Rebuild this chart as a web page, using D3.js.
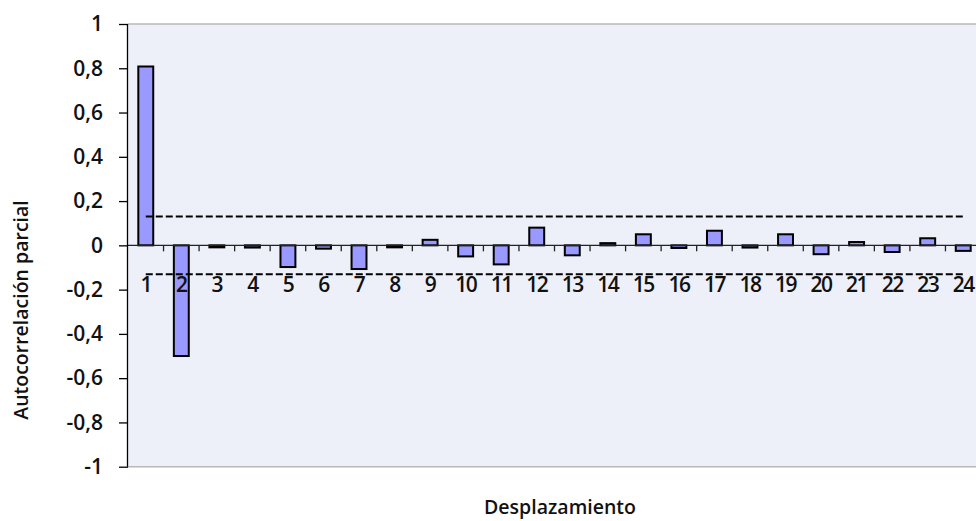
<!DOCTYPE html>
<html><head><meta charset="utf-8">
<script src="https://cdn.jsdelivr.net/npm/d3@7"></script>
<style>html,body{margin:0;padding:0;background:#fff;overflow:hidden}</style>
</head><body>
<svg id="c" width="976" height="521"></svg>
<script>
const lags = ["1","2","3","4","5","6","7","8","9","10","11","12","13","14","15","16","17","18","19","20","21","22","23","24"];
const pacf = [0.808,-0.50,-0.005,-0.01,-0.098,-0.015,-0.107,-0.005,0.025,-0.05,-0.086,0.08,-0.045,0.01,0.05,-0.012,0.066,-0.01,0.05,-0.04,0.015,-0.03,0.032,-0.025];
const upperBound = 0.13, lowerBound = -0.13;
const yTicks = [1,0.8,0.6,0.4,0.2,0,-0.2,-0.4,-0.6,-0.8,-1];
const yTitle = "Autocorrelación parcial", xTitle = "Desplazamiento";

const svg = d3.select("#c");
const L = 128, R = 981, T = 24, B = 466.7;
const x = d3.scaleBand().domain(lags).range([L, R]).paddingInner(0.58).paddingOuter(0.29);
const xb = d3.scaleBand().domain(lags).range([L, R]);
const y = d3.scaleLinear().domain([-1, 1]).range([B, T]);
const font = "'Open Sans', 'Noto Sans', sans-serif";

// plot area
svg.append("rect").attr("x", L).attr("y", T).attr("width", R - L).attr("height", B - T).attr("fill", "#edf0f8");
svg.append("line").attr("x1", L).attr("x2", R).attr("y1", T).attr("y2", T).attr("stroke", "#b8b8b8").attr("stroke-width", 1.5);
svg.append("line").attr("x1", L).attr("x2", R).attr("y1", B).attr("y2", B).attr("stroke", "#b8b8b8").attr("stroke-width", 1.5);

// y axis
const ya = svg.append("g").attr("transform", `translate(${L},0)`)
  .call(d3.axisLeft(y).tickValues(yTicks).tickSize(9).tickPadding(16)
    .tickFormat(d => String(+d.toFixed(1)).replace(".", ",")));
ya.select(".domain").attr("stroke", "#000").attr("stroke-width", 1.3).attr("d", `M-0.5,${T}V${B}`);
ya.selectAll(".tick line").attr("stroke", "#000").attr("stroke-width", 1.3);
ya.selectAll("text").attr("font-family", font).attr("font-size", 21).attr("font-weight", 600).attr("fill", "#111");

// bars
svg.append("g").selectAll("rect").data(pacf).join("rect")
  .attr("x", (d, i) => x(lags[i]))
  .attr("width", x.bandwidth())
  .attr("y", d => y(Math.max(0, d)))
  .attr("height", d => Math.max(2, Math.abs(y(d) - y(0))))
  .attr("fill", "#9999ff").attr("stroke", "#000").attr("stroke-width", 2);

// zero axis with ticks at band boundaries
svg.append("line").attr("x1", L).attr("x2", R).attr("y1", y(0)).attr("y2", y(0)).attr("stroke", "#222").attr("stroke-width", 1.3);
svg.append("g").selectAll("line").data(lags.slice(1)).join("line")
  .attr("x1", d => xb(d)).attr("x2", d => xb(d))
  .attr("y1", y(0)).attr("y2", y(0) + 6).attr("stroke", "#222").attr("stroke-width", 1.3);

// category labels
svg.append("g").selectAll("text").data(lags).join("text")
  .attr("x", d => xb(d) + xb.bandwidth() / 2).attr("y", y(0) + 47)
  .attr("text-anchor", "middle").attr("font-family", font).attr("font-size", 21).attr("font-weight", 600)
  .attr("letter-spacing", "-1.5px").attr("fill", "#111").text(d => d);

// confidence bounds
const line = d3.line().x(d => xb(d[0]) + xb.bandwidth() / 2).y(d => y(d[1]));
[upperBound, lowerBound].forEach(b => {
  svg.append("path").datum(lags.map(l => [l, b])).attr("d", line)
    .attr("fill", "none").attr("stroke", "#000").attr("stroke-width", 2).attr("stroke-dasharray", "7,3");
});

// titles
svg.append("text").attr("transform", `translate(28,${310}) rotate(-90)`).attr("text-anchor", "middle")
  .attr("font-family", font).attr("font-size", 19.5).attr("font-weight", 600).attr("fill", "#111").text(yTitle);
svg.append("text").attr("x", 560).attr("y", 514).attr("text-anchor", "middle")
  .attr("font-family", font).attr("font-size", 19.5).attr("font-weight", 600).attr("fill", "#111").text(xTitle);
</script>
</body></html>
